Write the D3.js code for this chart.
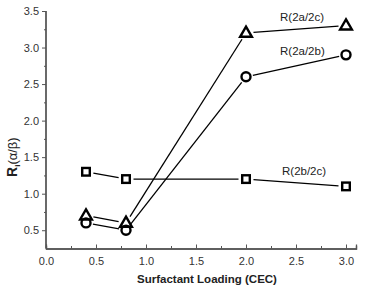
<!DOCTYPE html>
<html>
<head>
<meta charset="utf-8">
<script src="https://cdn.jsdelivr.net/npm/d3@7"></script>
<style>
  body { margin: 0; background: #fff; }
  text { font-family: "Liberation Sans", Arial, sans-serif; }
</style>
</head>
<body>
<div id="chart"></div>
<script>
// data
const loading = [0.4, 0.8, 2.0, 3.0];
const r2a2c = [0.7, 0.6, 3.2, 3.3];
const r2a2b = [0.6, 0.5, 2.6, 2.9];
const r2b2c = [1.3, 1.2, 1.2, 1.1];
const seriesNames = ["R(2a/2c)", "R(2a/2b)", "R(2b/2c)"];
const xTicks = [0, 0.5, 1, 1.5, 2, 2.5, 3];
const yTicks = [0.5, 1, 1.5, 2, 2.5, 3, 3.5];

const width = 369, height = 290;
const margin = { top: 11, right: 12, bottom: 42, left: 46 };

const svg = d3.select("#chart").append("svg")
  .attr("width", width)
  .attr("height", height);

const x = d3.scaleLinear().domain([0, 3.1]).range([margin.left, margin.left + 310]);
const y = d3.scaleLinear().domain([0.25, 3.5]).range([height - margin.bottom + 0.5, margin.top]);

const axisColor = "#555";

// x axis
const gx = svg.append("g").attr("transform", `translate(0,${y(0.25)})`);
gx.call(d3.axisBottom(x).tickValues(xTicks).tickFormat(d3.format(".1f")).tickSize(-4).tickPadding(9));
gx.append("g").call(d3.axisBottom(x).tickValues(d3.range(0.25, 3.1, 0.5)).tickFormat("").tickSize(-2.5));
gx.selectAll("path.domain").attr("stroke", axisColor).attr("stroke-width", 1.3);
gx.selectAll("line").attr("stroke", axisColor);
gx.selectAll("text").attr("font-size", 11).attr("fill", "#333");

// y axis
const gy = svg.append("g").attr("transform", `translate(${x(0)},0)`);
gy.call(d3.axisLeft(y).tickValues(yTicks).tickFormat(d3.format(".1f")).tickSize(4).tickPadding(3));
gy.append("g").call(d3.axisLeft(y).tickValues(d3.range(0.75, 3.5, 0.5)).tickFormat("").tickSize(2));
gy.selectAll("path.domain").attr("stroke", axisColor).attr("stroke-width", 1.3).attr("d", `M-0,${y(0.25)}V${y(3.5)}`);
gy.selectAll("line").attr("stroke", axisColor);
gy.selectAll("text").attr("font-size", 11).attr("fill", "#333");

// lines with gaps round the markers
function drawSeries(vals, gap) {
  const pts = loading.map((d, i) => [x(d), y(vals[i])]);
  for (let i = 0; i < pts.length - 1; i++) {
    const [x1, y1] = pts[i], [x2, y2] = pts[i + 1];
    const len = Math.hypot(x2 - x1, y2 - y1);
    const ux = (x2 - x1) / len, uy = (y2 - y1) / len;
    svg.append("line")
      .attr("x1", x1 + ux * gap).attr("y1", y1 + uy * gap)
      .attr("x2", x2 - ux * gap).attr("y2", y2 - uy * gap)
      .attr("stroke", "#000").attr("stroke-width", 1.3);
  }
  return pts;
}

const triPts = drawSeries(r2a2c, 7.5);
const cirPts = drawSeries(r2a2b, 7);
const sqPts = drawSeries(r2b2c, 7.5);

const sym = d3.symbol();
svg.selectAll(".tri").data(triPts).join("path")
  .attr("transform", d => `translate(${d[0]},${d[1] + 0.5})`)
  .attr("d", sym.type(d3.symbolTriangle).size(60)())
  .attr("fill", "none").attr("stroke", "#000").attr("stroke-width", 2.4);
svg.selectAll(".cir").data(cirPts).join("circle")
  .attr("cx", d => d[0]).attr("cy", d => d[1]).attr("r", 4.5)
  .attr("fill", "none").attr("stroke", "#000").attr("stroke-width", 2.4);
svg.selectAll(".sq").data(sqPts).join("rect")
  .attr("x", d => d[0] - 3.8).attr("y", d => d[1] - 3.8)
  .attr("width", 7.6).attr("height", 7.6)
  .attr("fill", "none").attr("stroke", "#000").attr("stroke-width", 2.4);

// series labels (left edge, baseline) in data units
const labelPos = [[2.34, 3.36], [2.34, 2.9], [2.36, 1.25]];
seriesNames.forEach((n, i) => {
  svg.append("text")
    .attr("x", x(labelPos[i][0])).attr("y", y(labelPos[i][1]))
    .attr("font-size", 11.5).attr("fill", "#222")
    .text(n);
});

// axis titles
svg.append("text")
  .attr("x", x(1.61)).attr("y", 283)
  .attr("text-anchor", "middle")
  .attr("font-size", 11.5).attr("font-weight", "bold").attr("fill", "#222")
  .text("Surfactant Loading (CEC)");

const yt = svg.append("text")
  .attr("transform", `translate(17,${y(1.5)}) rotate(-90)`)
  .attr("text-anchor", "middle")
  .attr("font-size", 14).attr("fill", "#222");
yt.append("tspan").attr("font-weight", "bold").text("R");
yt.append("tspan").attr("font-size", 8).attr("dy", 3).attr("font-weight", "bold").text("i");
yt.append("tspan").attr("dy", -3).attr("font-size", 13).text("(α/β)");
</script>
</body>
</html>
